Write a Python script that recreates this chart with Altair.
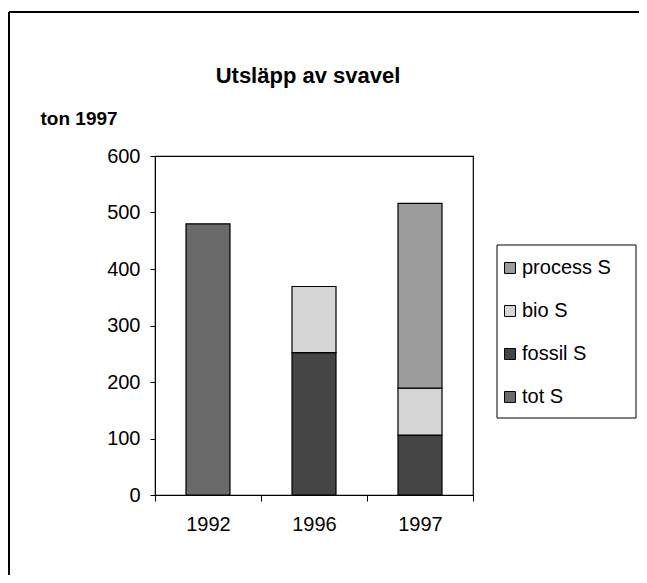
import altair as alt
import pandas as pd

years = ["1992", "1996", "1997"]
series = ["tot S", "fossil S", "bio S", "process S"]
tot_s = [480, 0, 0]
fossil_s = [0, 252, 106]
bio_s = [0, 117, 83]
process_s = [0, 0, 327]
legend_order = ["process S", "bio S", "fossil S", "tot S"]
colors = ["#9c9c9c", "#d6d6d6", "#454545", "#6a6a6a"]
y_ticks = [0, 100, 200, 300, 400, 500, 600]
title_text = "Utsläpp av svavel"

rows = []
for name, vals in zip(series, [tot_s, fossil_s, bio_s, process_s]):
    for yr, v in zip(years, vals):
        if v:
            rows.append({"year": yr, "series": name, "value": v, "order": series.index(name)})
df = pd.DataFrame(rows)

FONT = "Liberation Sans"

bars = alt.Chart(df).mark_bar(width=44, stroke="black", strokeWidth=1.2).encode(
    x=alt.X("year:N", sort=years, title=None,
            scale=alt.Scale(paddingInner=0, paddingOuter=0),
            axis=alt.Axis(labelAngle=0, tickBand="extent", tickSize=6, labelPadding=13,
                          labelFontSize=20, labelFont=FONT, labelColor="black",
                          domainColor="black", tickColor="black")),
    y=alt.Y("value:Q", stack="zero", title="ton 1997",
            scale=alt.Scale(domain=[0, 600], nice=False),
            axis=alt.Axis(values=y_ticks, grid=False, tickSize=5, labelPadding=10,
                          labelFontSize=20, labelFont=FONT, labelColor="black",
                          domainColor="black", tickColor="black",
                          titleAngle=0, titleX=-115, titleY=-32, titleAlign="left",
                          titleBaseline="alphabetic", titleFont=FONT, titleFontSize=19,
                          titleFontWeight="bold", titleColor="black")),
    color=alt.Color("series:N", sort=legend_order,
                    scale=alt.Scale(domain=legend_order, range=colors),
                    legend=alt.Legend(title=None, orient="none", legendX=345, legendY=102,
                                      symbolType="square", symbolSize=120,
                                      symbolStrokeColor="black", symbolStrokeWidth=1,
                                      labelFont=FONT, labelFontSize=20, labelColor="black",
                                      labelOffset=2, rowPadding=23, padding=0)),
    order=alt.Order("order:Q"),
)

one = alt.Chart(pd.DataFrame({"t": [title_text]}))
legend_box = one.mark_rect(fill="white", stroke="black", strokeWidth=1).encode(
    x=alt.value(342), x2=alt.value(481), y=alt.value(89), y2=alt.value(262))
border_left = one.mark_rule(color="black", strokeWidth=2).encode(
    x=alt.value(-146), y=alt.value(-144), y2=alt.value(430))
border_top = one.mark_rule(color="black", strokeWidth=2).encode(
    x=alt.value(-146), x2=alt.value(490), y=alt.value(-144))
title = one.mark_text(font=FONT, fontSize=22, fontWeight="bold", color="black",
                      align="center", baseline="alphabetic").encode(
    text="t:N", x=alt.value(153), y=alt.value(-73))

chart = alt.layer(border_left, border_top, legend_box, title, bars).properties(
    width=318, height=339,
    autosize=alt.AutoSizeParams(type="none"),
    padding={"left": 147, "top": 148, "right": 166, "bottom": 80},
).configure(background="white").configure_view(stroke="black", strokeWidth=1.2)

chart.save("out.html", embed_options={"renderer": "svg", "actions": False})
